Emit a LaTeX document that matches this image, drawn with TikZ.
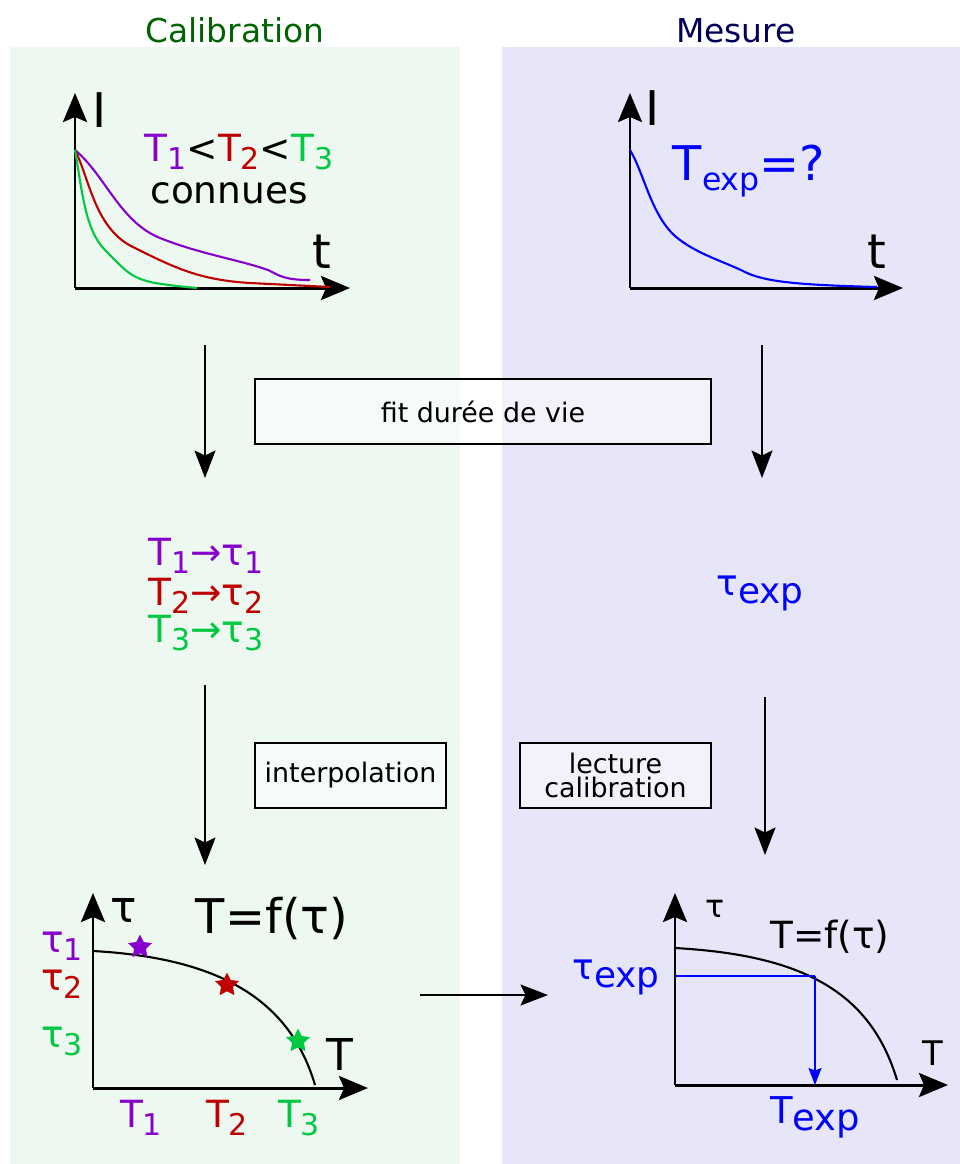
\documentclass[tikz,border=0pt]{standalone}
\usepackage{graphicx}
\usepackage{fontspec}
\setmainfont{DejaVu Sans}
\usetikzlibrary{arrows.meta,shapes.geometric}

\definecolor{calgreen}{RGB}{0,100,0}
\definecolor{mesnavy}{RGB}{0,0,90}
\definecolor{bgcal}{RGB}{236,248,240}
\definecolor{bgmes}{RGB}{230,230,248}
\definecolor{tone}{RGB}{136,0,204}
\definecolor{ttwo}{RGB}{190,0,0}
\definecolor{tthree}{RGB}{0,200,64}
\definecolor{texp}{RGB}{0,0,255}

% lowered, smaller index
\newcommand{\idx}[1]{\raisebox{-0.22em}{\scalebox{0.8}{#1}}}

\begin{document}
\begin{tikzpicture}[x=0.02cm,y=-0.02cm,
    lbl/.style={inner sep=0pt,anchor=base},
    titlefont/.style={font=\fontsize{18.7}{22}\selectfont},
    boxfont/.style={font=\fontsize{15.3}{17}\selectfont},
    bigfont/.style={font=\fontsize{27.2}{32}\selectfont},
    midfont/.style={font=\fontsize{21.3}{25}\selectfont},
    axis/.style={line width=1.7pt,-{Stealth[length=0.58cm,width=0.48cm,inset=0.1cm]}},
    flow/.style={line width=1.2pt,-{Stealth[length=0.55cm,width=0.42cm,inset=0.1cm]}},
    curve/.style={line width=1.2pt},
    labelbox/.style={draw,line width=0.7pt,fill=white,fill opacity=0.5,text opacity=1,
        boxfont,align=center,inner sep=0pt,minimum height=1.3cm},
    starpt/.style={star,star points=5,star point ratio=2.0,fill=#1,
        minimum size=0.5cm,inner sep=0pt}]

    \useasboundingbox (0,0) rectangle (960,1164);

    % Panels
    \fill[bgcal] (10,47) rectangle (460,1164);
    \fill[bgmes] (502,47) rectangle (960,1164);
    \node[lbl,titlefont,text=calgreen] (caltitle) at (235,42) {Calibration};
    \node[lbl,titlefont,text=mesnavy] (mestitle) at (736,42) {Mesure};

    % Calibration decays
    \coordinate (O1) at (75,288);
    \coordinate (Y1) at (75,93);
    \coordinate (X1) at (350,288);
    \draw[axis] (O1) -- (Y1);
    \draw[axis] (O1) -- (X1);
    \node[lbl,bigfont] (I1) at (100,127) {I};
    \node[lbl,bigfont] (t1) at (322,268) {t};
    \draw[curve,tone] (75,150) .. controls (105,175) and (120,222) .. (160,238)
        .. controls (200,254) and (240,260) .. (268,270)
        .. controls (280,276) and (285,280) .. (310,280);
    \draw[curve,ttwo] (75,150) .. controls (90,180) and (95,230) .. (135,248)
        .. controls (175,268) and (200,280) .. (250,283)
        .. controls (290,285) and (310,286) .. (330,287);
    \draw[curve,tthree] (75,150) .. controls (82,190) and (85,230) .. (105,250)
        .. controls (125,270) and (130,278) .. (155,283)
        .. controls (175,286) and (185,287) .. (197,288);
    \node[lbl,midfont] (order) at (239,161)
        {\textcolor{tone}{T\idx{1}}<\textcolor{ttwo}{T\idx{2}}<\textcolor{tthree}{T\idx{3}}};
    \node[lbl,midfont] (known) at (229,203) {connues};

    % Measured decay
    \coordinate (O2) at (630,288);
    \coordinate (Y2) at (630,93);
    \coordinate (X2) at (903,288);
    \draw[axis] (O2) -- (Y2);
    \draw[axis] (O2) -- (X2);
    \node[lbl,bigfont] (I2) at (653,125) {I};
    \node[lbl,bigfont] (t2) at (877,268) {t};
    \draw[curve,texp] (630,150) .. controls (645,175) and (652,220) .. (680,240)
        .. controls (700,255) and (725,262) .. (745,272)
        .. controls (765,282) and (800,285) .. (877,287);
    \node[lbl,bigfont,text=texp] (unknown) at (749,180)
        {T\raisebox{-0.22em}{\scalebox{0.66}{exp}}=?};

    % Step 1: lifetime fit
    \node[labelbox,minimum width=9.12cm] (fitbox) at (483,411.5) {fit durée de vie};
    \coordinate (calA) at (205,345);
    \coordinate (calB) at (205,478);
    \coordinate (mesA) at (762,345);
    \coordinate (mesB) at (762,478);
    \draw[flow] (calA) -- (calB);
    \draw[flow] (mesA) -- (mesB);

    \node[lbl,midfont,text=tone] (map1) at (206,565) {T\idx{1}→τ\idx{1}};
    \node[lbl,midfont,text=ttwo] (map2) at (206,605) {T\idx{2}→τ\idx{2}};
    \node[lbl,midfont,text=tthree] (map3) at (206,642) {T\idx{3}→τ\idx{3}};
    \node[lbl,font=\fontsize{20.4}{24}\selectfont,text=texp] (tauexp) at (760,603)
        {\raisebox{0.22em}{τ}exp};

    % Step 2: interpolation / reading
    \node[labelbox,minimum width=3.82cm] (interp) at (350.5,775.5) {interpolation};
    \node[labelbox,minimum width=3.82cm] (reading) at (615.5,775.5) {lecture\\[-3pt]calibration};
    \coordinate (calC) at (205,685);
    \coordinate (calD) at (205,865);
    \coordinate (mesC) at (765,697);
    \coordinate (mesD) at (765,855);
    \draw[flow] (calC) -- (calD);
    \draw[flow] (mesC) -- (mesD);

    % Calibration curve
    \coordinate (O3) at (93,1088);
    \coordinate (Y3) at (93,893);
    \coordinate (X3) at (368,1088);
    \draw[axis] (O3) -- (Y3);
    \draw[axis] (O3) -- (X3);
    \node[lbl,font=\fontsize{25}{30}\selectfont] (tau3) at (124,922) {τ};
    \node[lbl,font=\fontsize{25}{30}\selectfont] (T3) at (340,1070) {T};
    \node[lbl,bigfont] (law1) at (272,933) {T=f(τ)};
    \draw[curve] (93,951) .. controls (220,958) and (290,1000) .. (315,1085);
    \node[starpt=tone] (s1) at (140,947) {};
    \node[starpt=ttwo] (s2) at (227,985) {};
    \node[starpt=tthree] (s3) at (298,1041) {};
    \node[lbl,midfont,text=tone] (tau1lbl) at (62,952) {τ\idx{1}};
    \node[lbl,midfont,text=ttwo] (tau2lbl) at (62,990) {τ\idx{2}};
    \node[lbl,midfont,text=tthree] (tau3lbl) at (62,1047) {τ\idx{3}};
    \node[lbl,midfont,text=tone] (T1lbl) at (141,1127) {T\idx{1}};
    \node[lbl,midfont,text=ttwo] (T2lbl) at (227,1127) {T\idx{2}};
    \node[lbl,midfont,text=tthree] (T3lbl) at (299,1127) {T\idx{3}};

    % Transfer of the calibration
    \coordinate (hA) at (420,995);
    \coordinate (hB) at (548,995);
    \draw[flow] (hA) -- (hB);

    % Reading the calibration
    \coordinate (O4) at (675,1085);
    \coordinate (Y4) at (675,893);
    \coordinate (X4) at (948,1085);
    \draw[axis] (O4) -- (Y4);
    \draw[axis] (O4) -- (X4);
    \node[lbl,font=\fontsize{18}{22}\selectfont] (tau4) at (715,917) {τ};
    \node[lbl,font=\fontsize{19.3}{23}\selectfont] (T4) at (933,1065) {T};
    \node[lbl,midfont] (law2) at (830,948) {T=f(τ)};
    \draw[curve] (675,948) .. controls (800,955) and (870,990) .. (897,1080);
    \coordinate (tauaxis) at (675,976);
    \coordinate (readpt) at (815,976);
    \coordinate (readfoot) at (815,1085);
    \draw[texp,line width=0.8pt] (tauaxis) -- (readpt);
    \draw[texp,line width=0.8pt,-{Stealth[length=0.34cm,width=0.26cm,inset=0.05cm]}] (readpt) -- (readfoot);
    \node[lbl,font=\fontsize{20.4}{24}\selectfont,text=texp] (tauexp2) at (616,987)
        {\raisebox{0.22em}{τ}exp};
    \node[lbl,font=\fontsize{21}{25}\selectfont,text=texp] (Texp) at (815,1123)
        {T\raisebox{-0.2em}{exp}};
\end{tikzpicture}
\end{document}
